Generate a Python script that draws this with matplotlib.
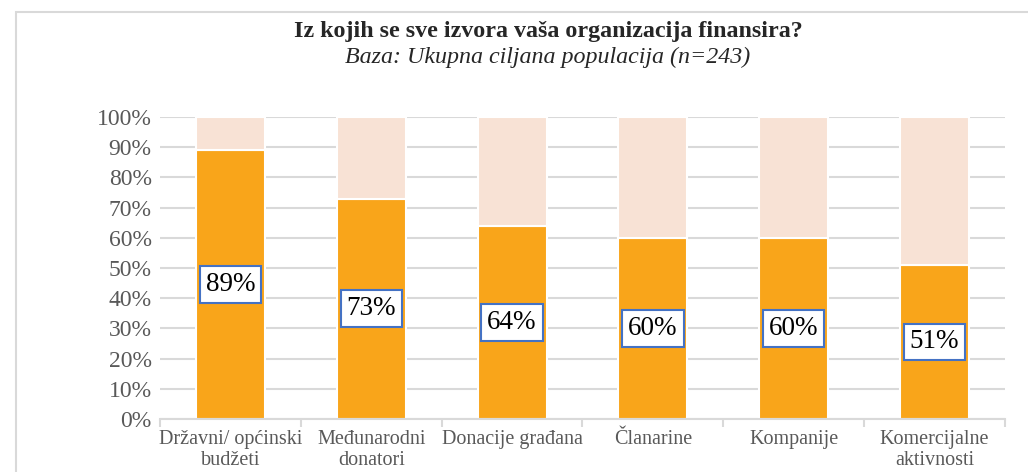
import matplotlib.pyplot as plt
import numpy as np
from matplotlib.patches import Rectangle

categories = ["Državni/ općinski\nbudžeti", "Međunarodni\ndonatori", "Donacije građana",
              "Članarine", "Kompanije", "Komercijalne\naktivnosti"]
values = [89, 73, 64, 60, 60, 51]

plt.rcParams["font.family"] = ["Liberation Serif", "DejaVu Serif"]

fig = plt.figure(figsize=(10.28, 4.72), dpi=100)
ax = fig.add_axes([160 / 1028, 1 - 419 / 472, 845 / 1028, 302 / 472])

x = np.arange(len(categories))
rest = [100 - v for v in values]
ax.bar(x, values, width=0.49, color="#F9A51A", edgecolor="white", linewidth=1.5, zorder=2)
ax.bar(x, rest, bottom=values, width=0.49, color="#F8E2D5", edgecolor="white", linewidth=1.5, zorder=2)

for xi, v in zip(x, values):
    ax.text(xi, v / 2, f"{v}%", ha="center", va="center", fontsize=19.5, color="black", zorder=3,
            bbox=dict(boxstyle="square,pad=0.22", facecolor="white", edgecolor="#4472C4", linewidth=1.5))

ax.set_xlim(-0.5, len(categories) - 0.5)
ax.set_ylim(0, 100)
ax.set_yticks(range(0, 101, 10))
ax.set_yticklabels([f"{t}%" for t in range(0, 101, 10)])
ax.yaxis.grid(True, color="#D9D9D9", linewidth=1.5, zorder=0)
ax.set_axisbelow(True)

ax.set_xticks(x)
ax.set_xticklabels(categories, linespacing=1.15)
ax.set_xticks(np.arange(-0.5, len(categories)), minor=True)
ax.tick_params(axis="x", which="major", length=0, pad=8, labelsize=14.5, labelcolor="#595959")
ax.tick_params(axis="x", which="minor", length=6, color="#D9D9D9", width=1.5)
ax.tick_params(axis="y", length=0, labelsize=17, labelcolor="#595959", pad=6)

for s in ["top", "right", "left"]:
    ax.spines[s].set_visible(False)
ax.spines["bottom"].set_color("#D9D9D9")
ax.spines["bottom"].set_linewidth(1.5)

fig.text(548 / 1028, 1 - 31 / 472, "Iz kojih se sve izvora vaša organizacija finansira?",
         ha="center", va="center", fontsize=17.3, fontweight="bold", color="#262626")
fig.text(548 / 1028, 1 - 57 / 472, "Baza: Ukupna ciljana populacija (n=243)",
         ha="center", va="center", fontsize=17.3, style="italic", color="#262626")

fig.patches.append(Rectangle((16 / 1028, -0.1), 1.2, 1.1 - 12 / 472, transform=fig.transFigure,
                             fill=False, edgecolor="#D9D9D9", linewidth=1.5))

fig.savefig("out.png", dpi=100)
